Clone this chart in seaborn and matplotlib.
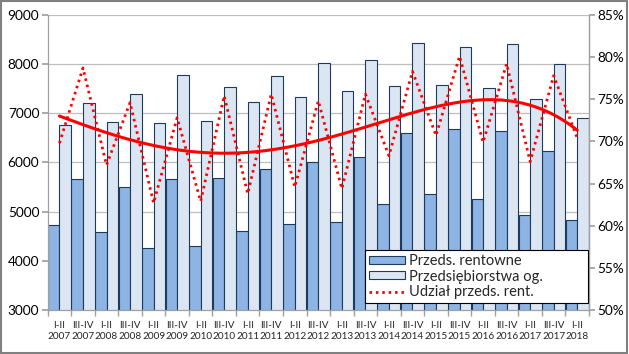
import numpy as np
import pandas as pd
import matplotlib
matplotlib.use("Agg")
import matplotlib.pyplot as plt
from matplotlib.patches import Patch, Rectangle
from matplotlib.lines import Line2D
from matplotlib.ticker import FixedLocator, FuncFormatter
import seaborn as sns

periods = ["I-II\n2007", "III-IV\n2007", "I-II\n2008", "III-IV\n2008", "I-II\n2009", "III-IV\n2009",
           "I-II\n2010", "III-IV\n2010", "I-II\n2011", "III-IV\n2011", "I-II\n2012", "III-IV\n2012",
           "I-II\n2013", "III-IV\n2013", "I-II\n2014", "III-IV\n2014", "I-II\n2015", "III-IV\n2015",
           "I-II\n2016", "III-IV\n2016", "I-II\n2017", "III-IV\n2017", "I-II\n2018"]
rentowne = [4720, 5660, 4580, 5510, 4260, 5660, 4300, 5680, 4600, 5870, 4740, 6000,
            4800, 6110, 5160, 6590, 5350, 6680, 5250, 6650, 4930, 6230, 4840]
ogolem = [6760, 7200, 6820, 7390, 6800, 7770, 6840, 7530, 7220, 7760, 7330, 8020,
          7450, 8080, 7550, 8420, 7570, 8340, 7510, 8400, 7290, 8010, 6900]
udzial = [69.8, 78.7, 67.2, 74.6, 62.7, 72.8, 62.9, 75.4, 63.8, 75.6, 64.6, 74.8,
          64.4, 75.6, 68.3, 78.3, 70.7, 80.1, 69.9, 79.2, 67.6, 77.8, 70.4]

s1 = "Przeds. rentowne"
s2 = "Przedsiębiorstwa og."
s3 = "Udział przeds. rent."

df = pd.DataFrame({
    "okres": periods * 2,
    "wartosc": rentowne + ogolem,
    "seria": [s1] * len(periods) + [s2] * len(periods),
})
dfl = pd.DataFrame({"idx": np.arange(len(periods)), "udzial": udzial})

sns.set_theme(style="white")
plt.rcParams["font.family"] = ["Lato", "DejaVu Sans"]

fig = plt.figure(figsize=(6.29, 3.54), dpi=100)
ax = fig.add_axes([0.0758, 0.124, 0.8606, 0.834])

dark = "#8DB4E2"
light = "#DCE6F2"
edge = "#1F3A5F"
sns.barplot(data=df, x="okres", y="wartosc", hue="seria", order=periods,
            palette=[dark, light], width=0.98, gap=0, ax=ax, legend=False,
            saturation=1, zorder=2)
for p in ax.patches:
    p.set_edgecolor(edge)
    p.set_linewidth(0.8)

ax.set_ylim(3000, 9000)
ax.set_xlim(-0.5, len(periods) - 0.5)
ax.set_yticks(np.arange(3000, 9001, 1000))
ax.yaxis.grid(True, color="#BFBFBF", linewidth=0.9, zorder=0)
ax.set_axisbelow(True)
ax.set_xlabel("")
ax.set_ylabel("")
ax.tick_params(axis="y", labelsize=9.8, length=4, pad=2, direction="out", left=True)
ax.tick_params(axis="x", labelsize=7.2, length=0, pad=8)
ax.xaxis.set_minor_locator(FixedLocator(np.arange(-0.5, len(periods), 1.0)))
ax.tick_params(axis="x", which="minor", length=4, color="#A0A0A0", bottom=True)
ax.tick_params(axis="y", colors="#A0A0A0", labelcolor="black")
for lab in ax.get_xticklabels():
    lab.set_linespacing(1.3)
ax.spines["top"].set_visible(False)
for sp in ["left", "bottom", "right"]:
    ax.spines[sp].set_color("#A0A0A0")
    ax.spines[sp].set_linewidth(0.9)

ax2 = ax.twinx()
dots = (0, (0.9, 1.4))
sns.lineplot(data=dfl, x="idx", y="udzial", ax=ax2, color="#FF0000", linewidth=2.0,
             linestyle=dots, zorder=3)
xs = np.linspace(0, len(periods) - 1, 200)
coef = np.polyfit(dfl["idx"], dfl["udzial"], 4)
trend = pd.DataFrame({"x": xs, "y": np.polyval(coef, xs)})
sns.lineplot(data=trend, x="x", y="y", ax=ax2, color="#FF0000", linewidth=2.2, zorder=4)
ax2.set_ylim(50, 85)
ax2.set_xlim(-0.5, len(periods) - 0.5)
ax2.set_yticks(np.arange(50, 86, 5))
ax2.yaxis.set_major_formatter(FuncFormatter(lambda v, p: f"{int(v)}%"))
ax2.tick_params(axis="y", labelsize=9.8, length=4, color="#A0A0A0", labelcolor="black", pad=2, right=True)
ax2.set_ylabel("")
ax2.set_xlabel("")
for sp in ["top", "left", "bottom"]:
    ax2.spines[sp].set_visible(False)
ax2.spines["right"].set_color("#A0A0A0")
ax2.spines["right"].set_linewidth(0.9)

handles = [Patch(facecolor=dark, edgecolor=edge, linewidth=0.8),
           Patch(facecolor=light, edgecolor=edge, linewidth=0.8),
           Line2D([0], [0], color="#FF0000", linewidth=2.0, linestyle=dots)]
leg = ax2.legend(handles, [s1, s2, s3], loc="lower left", bbox_to_anchor=(0.586, 0.024, 0.412, 0.179),
                 mode="expand", frameon=True, fancybox=False, edgecolor="black", framealpha=1,
                 fontsize=10.5, handlelength=2.5, handleheight=0.48, borderpad=0.25,
                 labelspacing=0.12, handletextpad=0.3, borderaxespad=0)
leg.get_frame().set_linewidth(0.8)
leg.set_zorder(10)

fig.patches.append(Rectangle((0.002, 0.003), 0.995, 0.993, transform=fig.transFigure,
                             fill=False, edgecolor="#808080", linewidth=1.5))

fig.savefig("out.png", dpi=100)
